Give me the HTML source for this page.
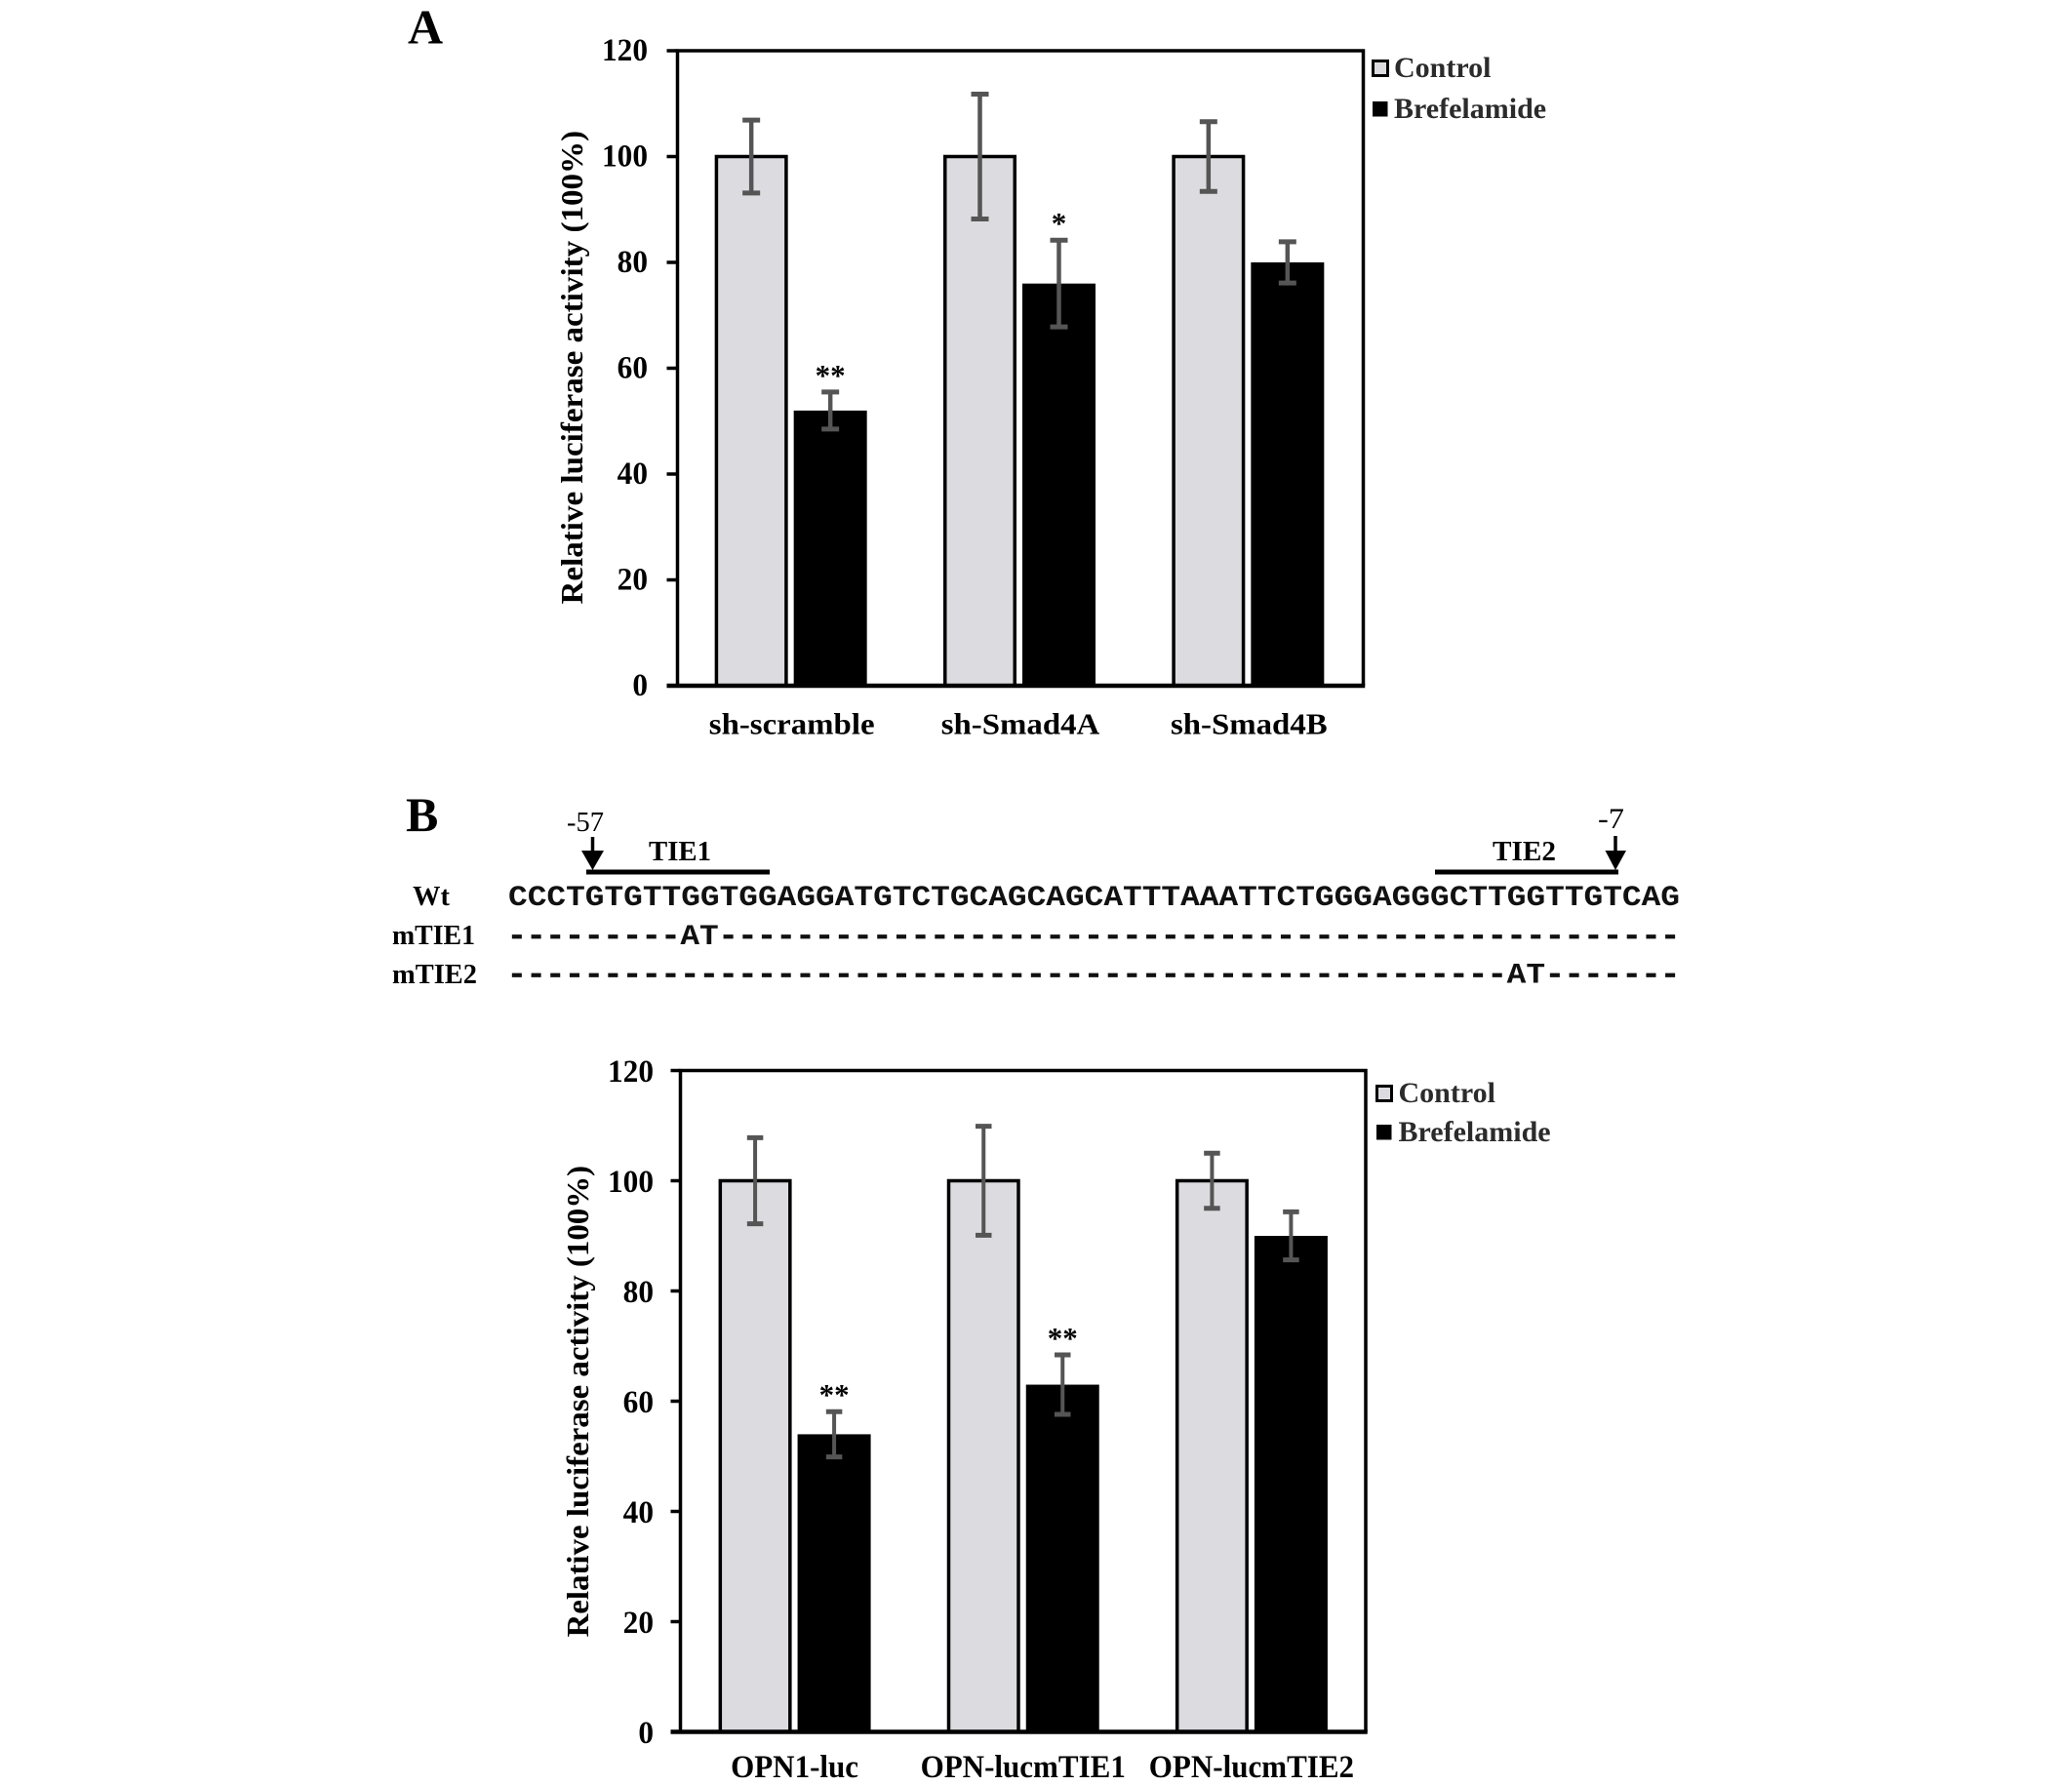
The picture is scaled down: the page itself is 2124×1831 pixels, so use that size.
<!DOCTYPE html>
<html lang="en">
<head>
<meta charset="utf-8">
<title>Relative luciferase activity</title>
<style>
html,body{margin:0;padding:0;background:#fff;}
svg{display:block;}
text{font-family:"Liberation Serif",serif;fill:#000;}
.bold{font-weight:bold;}
.seq{font-family:"Liberation Mono",monospace;font-weight:bold;font-size:30px;fill:#111;}
.dashes{stroke:#111;stroke-width:0.7px;}
.dashes tspan{stroke-width:0;}
</style>
</head>
<body>
<svg id="figure" xmlns="http://www.w3.org/2000/svg" width="2124" height="1831" viewBox="0 0 2124 1831">
  <rect x="0" y="0" width="2124" height="1831" fill="#fff"/>
  <text class="bold" x="418" y="44.5" font-size="50">A</text>
  <text class="bold" x="416" y="852" font-size="50">B</text>

  <g id="chart-a"></g>

  <g>
    <text x="581" y="852" font-size="28" textLength="38" lengthAdjust="spacingAndGlyphs">-57</text>
    <line x1="607.5" y1="858" x2="607.5" y2="875" stroke="#000" stroke-width="3.5"/>
    <polygon points="596,872 619,872 607.5,892" fill="#000"/>
    <rect x="601" y="891.5" width="188" height="5" fill="#000"/>
    <text class="bold" x="665" y="882" font-size="29" textLength="64" lengthAdjust="spacingAndGlyphs">TIE1</text>

    <text x="1638" y="849" font-size="30" textLength="27" lengthAdjust="spacingAndGlyphs">-7</text>
    <line x1="1656" y1="857" x2="1656" y2="875" stroke="#000" stroke-width="3.5"/>
    <polygon points="1645.5,872 1667,872 1656,892" fill="#000"/>
    <rect x="1471" y="891.5" width="188" height="5" fill="#000"/>
    <text class="bold" x="1530" y="882" font-size="29" textLength="65" lengthAdjust="spacingAndGlyphs">TIE2</text>

    <text class="bold" x="423" y="928" font-size="29" textLength="38" lengthAdjust="spacingAndGlyphs">Wt</text>
    <text class="bold" x="402" y="968" font-size="29" textLength="85" lengthAdjust="spacingAndGlyphs">mTIE1</text>
    <text class="bold" x="402" y="1008" font-size="29" textLength="87" lengthAdjust="spacingAndGlyphs">mTIE2</text>

    <text class="seq" x="521" y="928" textLength="1201" lengthAdjust="spacingAndGlyphs">CCCTGTGTTGGTGGAGGATGTCTGCAGCAGCATTTAAATTCTGGGAGGGCTTGGTTGTCAG</text>
    <text class="seq dashes" x="520" y="968" textLength="1202" lengthAdjust="spacingAndGlyphs">---------<tspan>AT</tspan>--------------------------------------------------</text>
    <text class="seq dashes" x="520" y="1007.5" textLength="1202" lengthAdjust="spacingAndGlyphs">----------------------------------------------------<tspan>AT</tspan>-------</text>
  </g>

  <g id="chart-b"></g>
</svg>
<script>
const tickValues = [0, 20, 40, 60, 80, 100, 120];
const legendLabels = ['Control', 'Brefelamide'];
const yAxisTitle = 'Relative luciferase activity (100%)';

const categoriesA = ['sh-scramble', 'sh-Smad4A', 'sh-Smad4B'];
const controlValuesA = [100, 100, 100];
const controlErrorsA = [6.9, 11.8, 6.6];
const treatedValuesA = [52, 76, 80];
const treatedErrorsA = [3.5, 8.2, 3.9];
const significanceA = ['**', '*', ''];

const categoriesB = ['OPN1-luc', 'OPN-lucmTIE1', 'OPN-lucmTIE2'];
const controlValuesB = [100, 100, 100];
const controlErrorsB = [7.8, 9.9, 5];
const treatedValuesB = [54, 63, 90];
const treatedErrorsB = [4.1, 5.4, 4.35];
const significanceB = ['**', '**', ''];

const SVG_NS = 'http://www.w3.org/2000/svg';

function shape(parent, tag, attrs) {
  const el = document.createElementNS(SVG_NS, tag);
  Object.keys(attrs).forEach(function (k) { el.setAttribute(k, attrs[k]); });
  parent.appendChild(el);
  return el;
}

function stretchText(el, factor) {
  const natural = el.getComputedTextLength();
  el.setAttribute('textLength', natural * factor);
  el.setAttribute('lengthAdjust', 'spacingAndGlyphs');
}

function drawChart(root, c) {
  const xBand = function (i) { return c.left + (c.right - c.left) * (i + 0.5) / c.categories.length; };
  const yScale = function (v) { return c.bottom - v * (c.bottom - c.top) / 120; };
  const barW = c.barW;
  const gap = c.barGap;

  c.categories.forEach(function (cat, i) {
    const cx = xBand(i);
    const bx = cx + c.barShift;
    const slug = cat.toLowerCase();

    const ctrlX = bx - gap / 2 - barW;
    const ctrlY = yScale(c.control[i]);
    const ctrl = shape(root, 'rect', { x: ctrlX + 1.75, y: ctrlY, width: barW - 3.5, height: c.bottom - ctrlY, fill: '#dcdce0', stroke: '#000', 'stroke-width': 3.5 });
    
    

    const trtX = bx + gap / 2;
    const trtY = yScale(c.treated[i]);
    const trt = shape(root, 'rect', { x: trtX, y: trtY, width: barW, height: c.bottom - trtY, fill: '#000' });
    
    

    [[ctrlX + barW / 2, c.control[i], c.controlErr[i], 'control'], [trtX + barW / 2, c.treated[i], c.treatedErr[i], 'brefelamide']].forEach(function (e) {
      const yHi = yScale(e[1] + e[2]);
      const yLo = yScale(e[1] - e[2]);
      const stem = shape(root, 'line', { x1: e[0], x2: e[0], y1: yHi, y2: yLo, stroke: '#555', 'stroke-width': c.errStem });
      
      
      const capTop = shape(root, 'line', { x1: e[0] - c.capW / 2, x2: e[0] + c.capW / 2, y1: yHi, y2: yHi, stroke: '#555', 'stroke-width': 5 });
      
      
      const capBot = shape(root, 'line', { x1: e[0] - c.capW / 2, x2: e[0] + c.capW / 2, y1: yLo, y2: yLo, stroke: '#555', 'stroke-width': 5 });
      
      
    });

    if (c.sig[i]) {
      const star = shape(root, 'text', { x: trtX + barW / 2, y: yScale(c.treated[i] + c.treatedErr[i]) - 7, 'font-size': 31, 'font-weight': 'bold', 'text-anchor': 'middle' });
      star.textContent = c.sig[i];
      
      
    }

    const label = shape(root, 'text', { x: cx, y: c.catY, 'font-size': c.catFont, 'font-weight': 'bold', 'text-anchor': 'middle' });
    label.textContent = cat;
    
    
    stretchText(label, c.catStretch);
  });

  const frame = shape(root, 'path', { d: 'M' + c.left + ' ' + c.bottom + 'V' + c.top + 'H' + c.right + 'V' + c.bottom, fill: 'none', stroke: '#000', 'stroke-width': 3.5 });
  
  

  const xAxis = shape(root, 'line', { x1: c.left - c.tickLen, x2: c.right + 1.75, y1: c.bottom, y2: c.bottom, stroke: '#000', 'stroke-width': 4.5 });
  
  

  tickValues.forEach(function (t) {
    const ty = yScale(t);
    const tick = shape(root, 'line', { x1: c.left - c.tickLen, x2: c.left, y1: ty, y2: ty, stroke: '#000', 'stroke-width': 3.5 });
    
    
    const lab = shape(root, 'text', { x: c.tickLabelX, y: ty + c.tickLabelDy, 'font-size': c.tickFont, 'font-weight': 'bold', 'text-anchor': 'end' });
    lab.textContent = String(t);
    
    
    stretchText(lab, c.tickStretch);
  });

  const title = shape(root, 'text', { x: 0, y: 0, 'font-size': c.titleFont, 'font-weight': 'bold', 'text-anchor': 'middle', transform: 'translate(' + c.titleX + ' ' + c.titleY + ') rotate(-90)' });
  title.textContent = yAxisTitle;
  
  
  stretchText(title, c.titleStretch);

  const sw1 = shape(root, 'rect', { x: c.legendX + 1.5, y: c.legendY1 - 16.5, width: 15, height: 15, fill: '#dcdce0', stroke: '#000', 'stroke-width': 3 });
  
  
  const t1 = shape(root, 'text', { x: c.legendTextX, y: c.legendY1, 'font-size': 30, 'font-weight': 'bold' });
  t1.textContent = legendLabels[0];
  
  
  t1.style.fill = '#2b2b2b';

  const sw2 = shape(root, 'rect', { x: c.legendX + 1, y: c.legendY2 - 17, width: 15.5, height: 15.5, fill: '#000' });
  
  
  const t2 = shape(root, 'text', { x: c.legendTextX, y: c.legendY2, 'font-size': 30, 'font-weight': 'bold' });
  t2.textContent = legendLabels[1];
  
  
  t2.style.fill = '#2b2b2b';
}

drawChart(document.getElementById('chart-a'), {
  categories: categoriesA, control: controlValuesA, controlErr: controlErrorsA,
  treated: treatedValuesA, treatedErr: treatedErrorsA, sig: significanceA,
  left: 694.5, right: 1397.5, top: 52, bottom: 703, tickLen: 11, barShift: -1,
  barW: 75, barGap: 6, errStem: 4.5, capW: 18,
  tickLabelX: 664, tickLabelDy: 10, tickFont: 33, tickStretch: 0.95,
  catY: 752.5, catFont: 31, catStretch: 1.06,
  titleX: 597, titleY: 376.7, titleFont: 32, titleStretch: 1.033,
  legendX: 1406, legendTextX: 1429, legendY1: 79, legendY2: 121
});

drawChart(document.getElementById('chart-b'), {
  categories: categoriesB, control: controlValuesB, controlErr: controlErrorsB,
  treated: treatedValuesB, treatedErr: treatedErrorsB, sig: significanceB,
  left: 697.5, right: 1400, top: 1097.5, bottom: 1775.5, tickLen: 10, barShift: 0,
  barW: 75, barGap: 6, errStem: 4, capW: 16.5,
  tickLabelX: 670, tickLabelDy: 11.5, tickFont: 33, tickStretch: 0.95,
  catY: 1822, catFont: 33, catStretch: 0.94,
  titleX: 603, titleY: 1436.7, titleFont: 32, titleStretch: 1.029,
  legendX: 1410, legendTextX: 1433.5, legendY1: 1130, legendY2: 1170
});
</script>
</body>
</html>
